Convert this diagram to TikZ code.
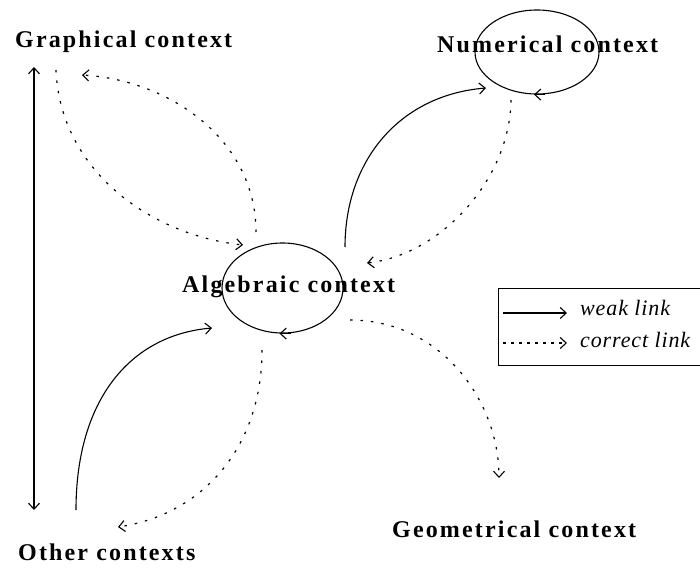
\documentclass[tikz,border=0pt]{standalone}
\usepackage{fontspec}
\setmainfont{Liberation Serif}
\newfontfamily\lblfont[LetterSpace=9]{Liberation Serif Bold}
\newfontfamily\legfont[LetterSpace=4]{Liberation Serif Italic}
\usetikzlibrary{arrows.meta,shapes.geometric,calc}
\begin{document}
\begin{tikzpicture}[x=1pt,y=-1pt,
  lbl/.style={anchor=base west,inner sep=0pt,font=\lblfont\fontsize{24}{24}\selectfont},
  leg/.style={anchor=base west,inner sep=0pt,font=\legfont\fontsize{22}{22}\selectfont},
  ell/.style={draw,ellipse,line width=1.1pt,inner sep=0pt},
  tip/.style={-{Straight Barb[length=6pt,width=11pt,line width=1.1pt]}},
  weak/.style={tip,line width=1.1pt},
  corr/.style={tip,line width=1.2pt,dash pattern=on 2.5pt off 8pt}]
\useasboundingbox (0,0) rectangle (700,570);
% ellipses
\node[ell,minimum width=121pt,minimum height=90pt] (algE) at (282.5,288) {};
\node[ell,minimum width=124pt,minimum height=84pt] (numE) at (537,52) {};
% labels
\node[lbl] (gra) at (15,47) {Graphical context};
\node[lbl] (num) at (437,52) {Numerical context};
\node[lbl] (alg) at (182,292) {Algebraic context};
\node[lbl] (geo) at (392,537) {Geometrical context};
\node[lbl] (oth) at (18,560) {Other contexts};
% connector end points
\coordinate (g1) at (56,70);
\coordinate (g2) at (82,75);
\coordinate (a1) at ($(algE)+(-39.5,-43)$);
\coordinate (a2) at ($(algE)+(-26.5,-56)$);
\coordinate (a3) at ($(algE)+(62.5,-41)$);
\coordinate (a4) at ($(algE)+(84.5,-25)$);
\coordinate (a5) at ($(algE)+(-70.5,40)$);
\coordinate (a6) at ($(algE)+(-20.5,62)$);
\coordinate (a7) at ($(algE)+(67.5,32)$);
\coordinate (n1) at ($(numE)+(-51,36)$);
\coordinate (n2) at ($(numE)+(-26,48)$);
\coordinate (o1) at (76,510);
\coordinate (o2) at (118,527);
\coordinate (ge) at (499,478);
\coordinate (vt) at (34,67);
\coordinate (vb) at (34,510);
% connectors
\draw[corr] (g1) .. controls (60,170) and (150,235) .. (a1);
\draw[corr] (a2) .. controls (256,140) and (170,80) .. (g2);
\draw[weak] (a3) .. controls (345,160) and (400,95) .. (n1);
\draw[corr] (n2) .. controls (510,180) and (440,255) .. (a4);
\draw[weak] (o1) .. controls (76,400) and (130,335) .. (a5);
\draw[corr] (a6) .. controls (262,450) and (200,515) .. (o2);
\draw[corr] (a7) .. controls (440,320) and (499,400) .. (ge);
\draw[{Straight Barb[length=6pt,width=11pt,line width=1.1pt]}-{Straight Barb[length=6pt,width=11pt,line width=1.1pt]},line width=1.1pt] (vt) -- (vb);
% direction marks on the ellipses
\draw[tip,line width=1.1pt] ($(numE.south)+(8,0)$) -- ($(numE.south)+(-3,0)$);
\draw[tip,line width=1.1pt] ($(algE.south)+(8,0)$) -- ($(algE.south)+(-3,0)$);
% legend
\node[draw,line width=1.1pt,minimum width=206pt,minimum height=77pt,anchor=north west,inner sep=0pt] (legbox) at (498,288) {};
\coordinate (l1a) at (503,313);
\coordinate (l1b) at (567,313);
\coordinate (l2a) at (503,343);
\coordinate (l2b) at (567,343);
\draw[weak] (l1a) -- (l1b);
\draw[corr,dash pattern=on 3pt off 5pt] (l2a) -- (l2b);
\node[leg] (lw) at (580,315) {weak link};
\node[leg] (lc) at (580,347) {correct link};
\end{tikzpicture}
\end{document}
